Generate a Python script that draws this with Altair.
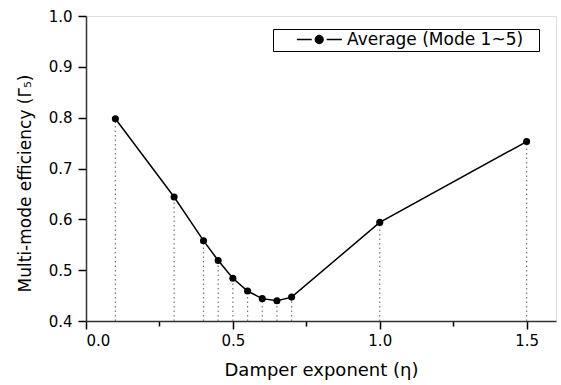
import altair as alt
import pandas as pd

eta = [0.1, 0.3, 0.4, 0.45, 0.5, 0.55, 0.6, 0.65, 0.7, 1.0, 1.5]
gamma5 = [0.798, 0.644, 0.558, 0.519, 0.484, 0.459, 0.444, 0.440, 0.447, 0.594, 0.753]
series_name = "Average (Mode 1~5)"

x_ticks = [0, 0.25, 0.5, 0.75, 1.0, 1.25, 1.5]
y_ticks = [0.4, 0.45, 0.5, 0.55, 0.6, 0.65, 0.7, 0.75, 0.8, 0.85, 0.9, 0.95, 1.0]

df = pd.DataFrame({"eta": eta, "g": gamma5, "base": [0.4] * len(eta), "series": [series_name] * len(eta)})

FONT = "DejaVu Sans"

xs = alt.Scale(domain=[0, 1.6], nice=False, zero=False)
ys = alt.Scale(domain=[0.4, 1.0], nice=False, zero=False)

x_major = "round(datum.value*100) % 50 == 0"
y_major = "round(datum.value*100) % 10 == 0"

x_axis = alt.Axis(
    values=x_ticks, format=".1f", title="Damper exponent (η)",
    labelExpr=f"{x_major} ? datum.label : ''",
    grid=False, domainColor="#333333", domainWidth=1.5, tickColor="black", tickWidth=1.5,
    tickSize={"condition": {"test": x_major, "value": 8}, "value": 5},
    labelPadding=4, labelFont=FONT, labelFontSize=15, labelColor="black",
    titleFont=FONT, titleFontSize=18, titleFontWeight="normal", titleColor="black",
    titleY=54, titleBaseline="alphabetic",
)
y_axis = alt.Axis(
    values=y_ticks, format=".1f", title="Multi-mode efficiency (Γ₅)",
    labelExpr=f"{y_major} ? datum.label : ''",
    grid=False, domainColor="#333333", domainWidth=1.5, tickColor="black", tickWidth=1.5,
    tickSize={"condition": {"test": y_major, "value": 8}, "value": 5},
    labelPadding=6, labelFont=FONT, labelFontSize=15, labelColor="black",
    titleFont=FONT, titleFontSize=17, titleFontWeight="normal", titleColor="black",
    titleX=-56, titleY=167, titleBaseline="alphabetic", titleAngle=270,
)

base = alt.Chart(df)

drops = base.mark_rule(color="#777777", strokeDash=[1.5, 3], strokeWidth=1.2).encode(
    x=alt.X("eta:Q", scale=xs, axis=x_axis),
    y=alt.Y("base:Q", scale=ys, axis=y_axis),
    y2="g:Q",
)

line = base.mark_line(color="black", strokeWidth=1.5).encode(
    x=alt.X("eta:Q", scale=xs),
    y=alt.Y("g:Q", scale=ys),
)

sym = "M-0.39,0L0.07,0M0.53,0L1,0M0.18,0A0.12,0.12,0,1,0,0.42,0A0.12,0.12,0,1,0,0.18,0Z"

points = base.mark_point(filled=True, size=50, opacity=1, shape="circle").encode(
    x=alt.X("eta:Q", scale=xs),
    y=alt.Y("g:Q", scale=ys),
    color=alt.Color(
        "series:N",
        scale=alt.Scale(range=["black"]),
        legend=alt.Legend(
            title=None, orient="none", legendX=187, legendY=13,
            strokeColor="black", fillColor="white", padding=3, cornerRadius=0,
            clipHeight=15, symbolType=sym, symbolSize=4186, symbolStrokeWidth=1.5,
            symbolStrokeColor="black", symbolFillColor="black", symbolOffset=0,
            labelOffset=4, labelFont=FONT, labelFontSize=17, labelColor="black",
            labelExpr="datum.label + '\u2800'", labelLimit=400,
        ),
    ),
)

chart = alt.layer(drops, line, points).properties(
    width=470, height=305,
    autosize=alt.AutoSizeParams(type="none"),
    padding={"left": 86, "top": 16, "right": 5, "bottom": 64},
).configure_view(stroke=None).configure(background="white")

chart.save("out.html", embed_options={"renderer": "svg", "actions": False})
